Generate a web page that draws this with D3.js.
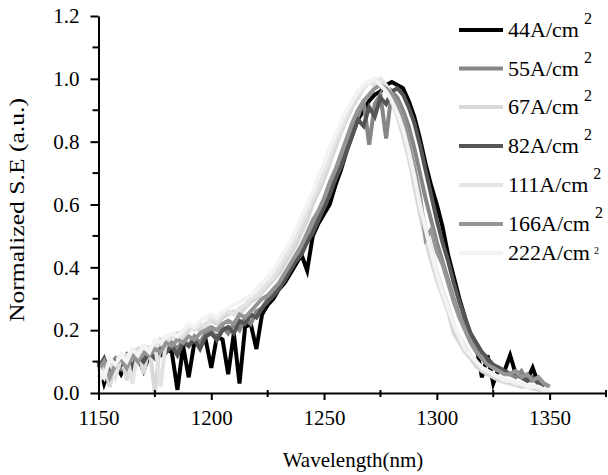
<!DOCTYPE html>
<html>
<head>
<meta charset="utf-8">
<script src="https://cdn.jsdelivr.net/npm/d3@7"></script>
<style>
  body { margin: 0; background: #fff; }
  svg { display: block; }
  text { font-family: "Liberation Serif", "Times New Roman", serif; }
</style>
</head>
<body>
<svg id="chart" width="608" height="475"></svg>
<script>
// wavelength grid, 1150 .. 1350 nm every 2.5 nm
var wavelengths = d3.range(1150, 1350.1, 2.5)

var labels = ["44", "55", "67", "82", "111", "166", "222"]
var colors = ["#000000", "#868686", "#d8d8d8", "#555555", "#e4e4e4", "#959595", "#f3f3f3"]

var s44 = [0.10,0.03,0.08,0.09,0.06,0.10,0.08,0.11,0.07,0.12,
  0.13,0.12,0.14,0.13,0.01,0.15,0.05,0.16,0.15,0.17,
  0.08,0.18,0.17,0.06,0.19,0.03,0.21,0.22,0.14,0.25,
  0.28,0.30,0.33,0.35,0.38,0.41,0.44,0.39,0.50,0.54,
  0.57,0.60,0.66,0.71,0.77,0.82,0.87,0.90,0.93,0.95,
  0.96,0.98,0.99,0.98,0.97,0.93,0.88,0.81,0.73,0.66,
  0.60,0.53,0.44,0.37,0.30,0.24,0.18,0.15,0.05,0.12,
  0.03,0.08,0.07,0.12,0.06,0.05,0.04,0.08,0.03,null,null]

var s55 = [0.10,0.06,0.09,0.11,0.08,0.12,0.10,0.13,0.11,0.14,
  0.12,0.15,0.13,0.16,0.14,0.17,0.15,0.18,0.16,0.19,
  0.20,0.17,0.21,0.19,0.22,0.20,0.24,0.22,0.26,0.27,
  0.30,0.31,0.34,0.36,0.40,0.43,0.45,0.49,0.52,0.56,
  0.60,0.64,0.69,0.74,0.79,0.84,0.88,0.93,0.79,0.92,
  0.95,0.81,0.96,0.94,0.90,0.85,0.78,0.70,0.62,0.55,
  0.48,0.42,0.36,0.30,0.25,0.21,0.17,0.14,0.11,0.09,
  0.08,0.07,0.07,0.06,0.05,0.07,0.04,0.04,0.05,0.03,0.02]

var s67 = [0.05,0.09,0.02,0.10,0.12,0.04,0.13,0.14,0.06,0.15,
  0.00,0.17,0.16,0.18,0.19,0.17,0.20,0.21,0.20,0.22,
  0.23,0.22,0.24,0.25,0.26,0.25,0.27,0.29,0.30,0.32,
  0.34,0.36,0.38,0.41,0.44,0.47,0.51,0.55,0.60,0.64,
  0.68,0.73,0.78,0.83,0.87,0.91,0.94,0.97,0.99,1.00,
  0.99,0.97,0.93,0.88,0.82,0.75,0.66,0.57,0.49,0.42,
  0.36,0.31,0.26,0.19,0.16,0.13,0.11,0.085,0.07,0.06,
  0.05,0.04,0.035,0.03,0.025,0.02,0.02,0.015,0.01,0.01,null]

var s82 = [0.08,0.11,0.06,0.10,0.09,0.12,0.08,0.12,0.10,0.13,
  0.11,0.14,0.13,0.15,0.12,0.16,0.15,0.17,0.14,0.18,
  0.19,0.17,0.20,0.21,0.19,0.23,0.22,0.25,0.24,0.27,
  0.29,0.31,0.33,0.36,0.39,0.42,0.44,0.48,0.51,0.55,
  0.59,0.63,0.68,0.72,0.77,0.82,0.87,0.85,0.91,0.88,
  0.94,0.92,0.96,0.97,0.95,0.91,0.86,0.79,0.71,0.63,
  0.55,0.48,0.42,0.35,0.29,0.24,0.19,0.16,0.13,0.11,
  0.09,0.08,0.07,0.06,0.07,0.05,0.04,0.05,0.03,0.02,null]

var s111 = [0.03,0.07,0.10,0.05,0.11,0.12,0.03,0.13,0.15,0.14,
  0.16,0.02,0.17,0.18,0.17,0.19,0.21,0.20,0.22,0.21,
  0.24,0.23,0.25,0.26,0.25,0.27,0.28,0.30,0.31,0.33,
  0.35,0.37,0.40,0.43,0.46,0.50,0.54,0.58,0.62,0.66,
  0.70,0.75,0.80,0.84,0.88,0.92,0.95,0.97,0.99,0.98,
  1.00,0.98,0.95,0.91,0.85,0.78,0.70,0.61,0.53,0.46,
  0.39,0.33,0.28,0.22,0.18,0.15,0.12,0.10,0.08,0.07,
  0.06,0.05,0.04,0.04,0.03,0.03,0.02,0.02,0.02,0.01,0.01]

var s166 = [0.07,0.10,0.05,0.09,0.11,0.08,0.12,0.10,0.13,0.12,
  0.14,0.13,0.16,0.15,0.17,0.16,0.18,0.17,0.19,0.20,
  0.21,0.20,0.22,0.23,0.22,0.25,0.24,0.26,0.28,0.30,
  0.31,0.33,0.35,0.38,0.41,0.44,0.47,0.51,0.55,0.58,
  0.62,0.67,0.71,0.76,0.81,0.86,0.90,0.93,0.95,0.97,
  0.98,0.97,0.95,0.92,0.88,0.80,0.72,0.63,0.49,0.52,
  0.45,0.41,0.35,0.29,0.24,0.20,0.16,0.13,0.11,0.09,
  0.08,0.07,0.06,0.06,0.07,0.05,0.06,0.04,0.05,0.03,0.02]

var s222 = [0.08,0.05,0.11,0.09,0.12,0.10,0.14,0.12,0.15,0.13,
  0.17,0.16,0.18,0.19,0.18,0.20,0.22,0.21,0.23,0.24,
  0.25,0.24,0.26,0.27,0.28,0.29,0.30,0.31,0.33,0.35,
  0.37,0.39,0.42,0.45,0.48,0.52,0.56,0.60,0.64,0.69,
  0.73,0.78,0.82,0.86,0.90,0.93,0.96,0.98,0.99,1.00,
  0.98,0.96,0.93,0.89,0.84,0.77,0.69,0.60,0.52,0.45,
  0.38,0.32,0.27,0.22,0.18,0.14,0.12,0.10,0.08,0.07,
  0.06,0.05,0.04,0.04,0.03,0.03,0.02,0.02,0.02,0.01,0.01]

var seriesValues = [s44, s55, s67, s82, s111, s166, s222]

var xMajor = [1150, 1200, 1250, 1300, 1350]
var xMinor = [1175, 1225, 1275, 1325, 1375]
var yMajor = [0, 0.2, 0.4, 0.6, 0.8, 1.0, 1.2]
var yMinor = [0.1, 0.3, 0.5, 0.7, 0.9, 1.1]

var svg = d3.select('#chart')

var x = d3.scaleLinear().domain([1150, 1375]).range([98.5, 606])
var y = d3.scaleLinear().domain([0, 1.2]).range([393, 16])

//data lines first, axes drawn over them
var line = d3.line()
  .defined(function(d) { return d.v !== null })
  .x(function(d) { return x(d.w) })
  .y(function(d) { return y(d.v) })

seriesValues.forEach(function(vals, k) {
  var pts = wavelengths.map(function(w, i) { return {w: w, v: vals[i]} })
  svg.append('path')
    .datum(pts)
    .attr('fill', 'none')
    .attr('stroke', colors[k])
    .attr('stroke-width', 4)
    .attr('d', line)
})

// x axis
var xAxis = svg.append('g')
  .attr('transform', 'translate(0,393)')
  .call(d3.axisBottom(x).tickValues(xMajor).tickSize(7).tickSizeOuter(0).tickPadding(10)
    .tickFormat(d3.format('d')))
xAxis.attr('font-family', null).attr('font-size', null)
xAxis.selectAll('line').attr('stroke', '#000').attr('stroke-width', 2)
xAxis.select('.domain').attr('stroke', '#000').attr('stroke-width', 2)
xAxis.selectAll('text').style('font-size', '21px').attr('fill', '#000')
svg.selectAll('.xminor')
  .data(xMinor).enter().append('line')
  .attr('x1', function(d) { return x(d) }).attr('x2', function(d) { return x(d) })
  .attr('y1', 390).attr('y2', 397)
  .attr('stroke', '#000').attr('stroke-width', 2)

// y axis
var yAxis = svg.append('g')
  .attr('transform', 'translate(98.5,0)')
  .call(d3.axisLeft(y).tickValues(yMajor).tickSize(8).tickSizeOuter(0).tickPadding(11)
    .tickFormat(d3.format('.1f')))
yAxis.attr('font-family', null).attr('font-size', null)
yAxis.selectAll('line').attr('stroke', '#000').attr('stroke-width', 2)
yAxis.select('.domain').attr('stroke', '#000').attr('stroke-width', 2)
yAxis.selectAll('text').style('font-size', '21px').attr('fill', '#000')
svg.selectAll('.yminor')
  .data(yMinor).enter().append('line')
  .attr('x1', 92.5).attr('x2', 98.5)
  .attr('y1', function(d) { return y(d) }).attr('y2', function(d) { return y(d) })
  .attr('stroke', '#000').attr('stroke-width', 2)

// titles
svg.append('text')
  .attr('x', 353).attr('y', 467)
  .attr('text-anchor', 'middle')
  .style('font-size', '21px')
  .text('Wavelength(nm)')

svg.append('text')
  .attr('transform', 'translate(24,210) rotate(-90)')
  .attr('text-anchor', 'middle')
  .style('font-size', '20px')
  .attr('textLength', 224)
  .attr('lengthAdjust', 'spacingAndGlyphs')
  .text('Normalized S.E (a.u.)')

// legend
var legendY = [30, 68.5, 107, 146, 185, 224, 253]
var legend = svg.append('g')
labels.forEach(function(lab, k) {
  var g = legend.append('g').attr('transform', 'translate(0,' + legendY[k] + ')')
  g.append('line')
    .attr('x1', 459).attr('x2', 503).attr('y1', 0).attr('y2', 0)
    .attr('stroke', colors[k]).attr('stroke-width', 4)
  var t = g.append('text')
    .attr('x', 508).attr('y', 7)
    .style('font-size', '22px')
  t.append('tspan').text(lab + 'A/cm')
  t.append('tspan')
    .attr('dx', k === 6 ? 4 : 5)
    .attr('dy', k === 6 ? -6 : -13)
    .style('font-size', k === 6 ? '10px' : '16px')
    .text('2')
})
</script>
</body>
</html>
